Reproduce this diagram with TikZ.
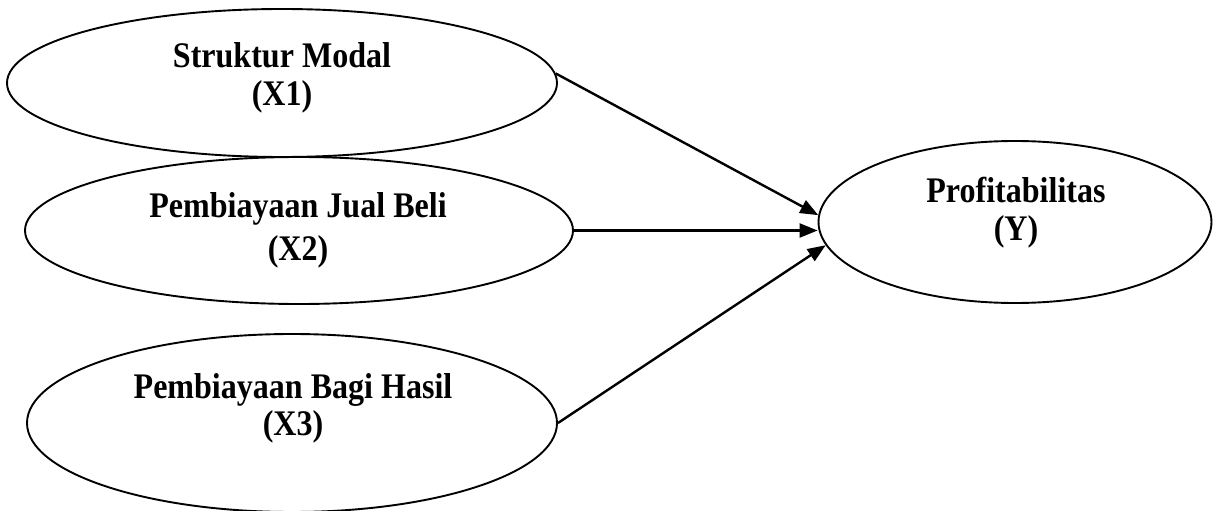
\documentclass[tikz,border=0pt]{standalone}
\usepackage{fontspec}
\setmainfont[FakeStretch=0.89]{Liberation Serif}
\usetikzlibrary{shapes.geometric,arrows.meta}

\begin{document}
\begin{tikzpicture}[x=1pt,y=-1pt,
  construct/.style={draw,ellipse,line width=1.9pt,inner sep=0pt},
  caption/.style={anchor=base,inner sep=0pt,font=\fontsize{36}{42}\selectfont\bfseries},
  path/.style={line width=2.4pt,-{Triangle[length=18pt,width=14pt]}}]
\useasboundingbox (0,0) rectangle (1219,511);

% latent constructs
\node[construct,minimum width=550pt,minimum height=148pt] (x1) at (282,83) {};
\node[construct,minimum width=548pt,minimum height=147pt] (x2) at (299,230.5) {};
\node[construct,minimum width=530pt,minimum height=178pt] (x3) at (292,423) {};
\node[construct,minimum width=393pt,minimum height=162pt] (y) at (1015,222) {};

% construct names
\node[caption] (x1a) at (282,68) {Struktur Modal};
\node[caption] (x1b) at (282,106) {(X1)};
\node[caption] (x2a) at (298,217) {Pembiayaan Jual Beli};
\node[caption] (x2b) at (298,260) {(X2)};
\node[caption] (x3a) at (293,398) {Pembiayaan Bagi Hasil};
\node[caption] (x3b) at (293,435) {(X3)};
\node[caption] (ya) at (1016,202) {Profitabilitas};
\node[caption] (yb) at (1016,240) {(Y)};

% hypothesised effects
\draw[path] (x1.2) -- (y.178);
\draw[path] (x2.east) -- (x2.east -| y.west);
\draw[path] (x3.east) -- (y.187);
\end{tikzpicture}
\end{document}
